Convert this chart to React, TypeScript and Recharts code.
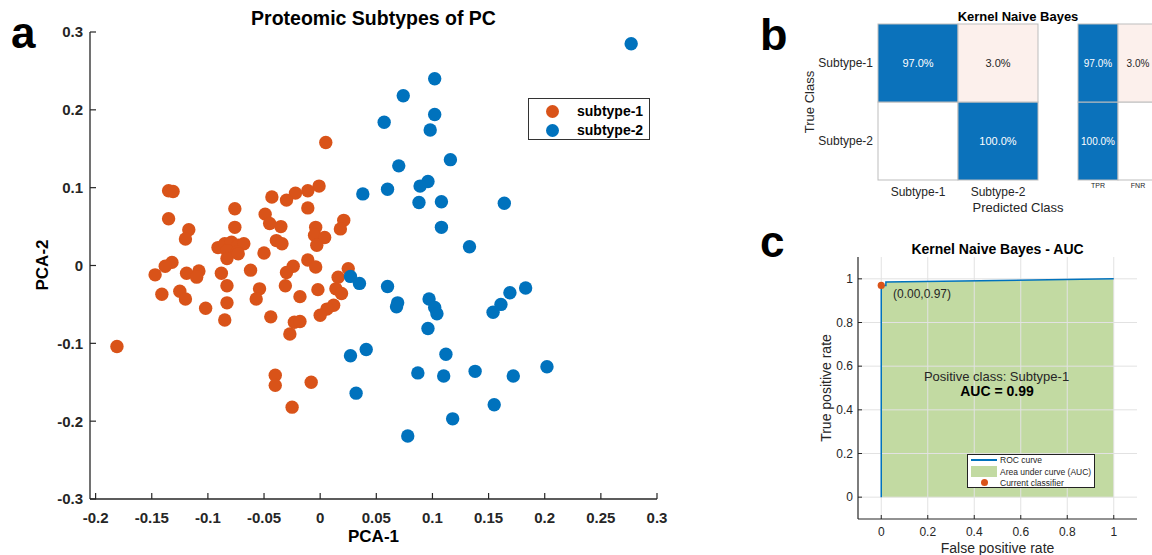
import React from "react";
import {
  ScatterChart,
  Scatter,
  XAxis,
  YAxis,
  Legend,
  BarChart,
  Bar,
  ComposedChart,
  Area,
  Line,
  ReferenceLine,
} from "recharts";

const FONT = '"Liberation Sans", Arial, Helvetica, sans-serif';
const ORANGE = "#D95319";
const BLUE = "#0072BD";
const GREEN = "#77AC30";
const AXIS = "#262626";
const TXT = "#262626";

// ---- panel a: PCA scatter ----
const subtype1: [number, number][] = [
  [0.005, 0.158], [-0.135, 0.096], [-0.131, 0.095], [-0.135, 0.06], [-0.117, 0.046],
  [-0.12, 0.034], [-0.076, 0.073], [-0.076, 0.049], [-0.132, 0.004], [-0.138, -0.001],
  [-0.147, -0.012], [-0.119, -0.01], [-0.108, -0.007], [-0.088, -0.01], [-0.001, 0.102],
  [-0.011, 0.096], [-0.022, 0.093], [-0.03, 0.084], [-0.043, 0.088], [-0.011, 0.074],
  [-0.049, 0.066], [-0.045, 0.054], [-0.035, 0.05], [0.021, 0.058], [0.018, 0.047],
  [-0.004, 0.049], [-0.005, 0.039], [0.004, 0.036], [-0.003, 0.026], [-0.039, 0.032],
  [-0.034, 0.028], [-0.05, 0.016], [-0.062, -0.006], [-0.011, 0.007], [-0.004, -0.002],
  [-0.024, -0.001], [-0.03, -0.009], [0.025, -0.004], [0.016, -0.015], [-0.091, 0.023],
  [-0.085, 0.028], [-0.079, 0.03], [-0.073, 0.026], [-0.068, 0.028], [-0.083, 0.019],
  [-0.074, 0.017], [-0.083, 0.009], [-0.073, 0.015], [-0.11, -0.015], [-0.083, -0.026],
  [-0.141, -0.037], [-0.125, -0.033], [-0.12, -0.043], [-0.102, -0.055], [-0.083, -0.048],
  [-0.085, -0.07], [-0.181, -0.104], [-0.054, -0.03], [-0.057, -0.043], [-0.031, -0.026],
  [-0.018, -0.04], [-0.002, -0.031], [0.014, -0.03], [0.019, -0.036], [0.012, -0.051],
  [0.006, -0.056], [0.0, -0.064], [-0.044, -0.066], [-0.023, -0.073], [-0.018, -0.072],
  [-0.027, -0.088], [-0.04, -0.141], [-0.04, -0.154], [-0.008, -0.15], [-0.025, -0.182],
];

const subtype2: [number, number][] = [
  [0.277, 0.285], [0.102, 0.24], [0.074, 0.218], [0.102, 0.194], [0.057, 0.184],
  [0.098, 0.174], [0.116, 0.136], [0.07, 0.128], [0.096, 0.108], [0.089, 0.102],
  [0.06, 0.098], [0.038, 0.092], [0.088, 0.081], [0.108, 0.082], [0.164, 0.08],
  [0.108, 0.049], [0.133, 0.024], [0.027, -0.014], [0.035, -0.023], [0.06, -0.027],
  [0.069, -0.048], [0.068, -0.053], [0.097, -0.043], [0.102, -0.054], [0.104, -0.062],
  [0.096, -0.081], [0.169, -0.035], [0.183, -0.029], [0.161, -0.05], [0.154, -0.06],
  [0.027, -0.116], [0.041, -0.108], [0.112, -0.114], [0.087, -0.138], [0.11, -0.142],
  [0.138, -0.136], [0.172, -0.142], [0.202, -0.13], [0.032, -0.164], [0.155, -0.179],
  [0.118, -0.197], [0.078, -0.219],
];

const pcaXTicks = [-0.2, -0.15, -0.1, -0.05, 0, 0.05, 0.1, 0.15, 0.2, 0.25, 0.3];
const pcaYTicks = [-0.3, -0.2, -0.1, 0, 0.1, 0.2, 0.3];

// ---- panel b: confusion matrix ----
const trueClasses = ["Subtype-1", "Subtype-2"];
const predClasses = ["Subtype-1", "Subtype-2"];
const confPct = [
  [97.0, 3.0],
  [0, 100.0],
];
const rateCols = ["TPR", "FNR"];
const ratePct = [
  [97.0, 3.0],
  [100.0, 0],
];

// ---- panel c: ROC ----
const rocFpr = [0, 0, 0.02, 0.02, 1];
const rocTpr = [0, 0.97, 0.97, 0.985, 1];
const classifierFpr = 0;
const classifierTpr = 0.97;
const rocTicks = [0, 0.2, 0.4, 0.6, 0.8, 1];

type TickOpts = {
  len: number;
  gap: number;
  size: number;
  weight: number;
  sw: number;
};

const bottomTick = (o: TickOpts) => (p: any) => (
  <g>
    <line x1={p.x} x2={p.x} y1={p.y} y2={p.y - o.len} stroke={AXIS} strokeWidth={o.sw} />
    <text
      x={p.x}
      y={p.y + o.gap}
      textAnchor="middle"
      fontSize={o.size}
      fontWeight={o.weight}
      fill={TXT}
      fontFamily={FONT}
    >
      {String(p.payload.value)}
    </text>
  </g>
);

const leftTick = (o: TickOpts) => (p: any) => (
  <g>
    <line x1={p.x} x2={p.x + o.len} y1={p.y} y2={p.y} stroke={AXIS} strokeWidth={o.sw} />
    <text
      x={p.x - o.gap}
      y={p.y + o.size * 0.36}
      textAnchor="end"
      fontSize={o.size}
      fontWeight={o.weight}
      fill={TXT}
      fontFamily={FONT}
    >
      {String(p.payload.value)}
    </text>
  </g>
);

function Txt({
  x,
  y,
  size,
  bold,
  anchor = "middle",
  rotate,
  color = "#000",
  children,
}: {
  x: number;
  y: number;
  size: number;
  bold?: boolean;
  anchor?: "start" | "middle" | "end";
  rotate?: boolean;
  color?: string;
  children: React.ReactNode;
}) {
  const base: React.CSSProperties = {
    position: "absolute",
    fontSize: size,
    lineHeight: `${size}px`,
    fontWeight: bold ? 700 : 400,
    color,
    whiteSpace: "nowrap",
  };
  if (rotate) {
    return (
      <div style={{ ...base, left: x, top: y, transform: "translate(-50%,-50%) rotate(-90deg)" }}>
        {children}
      </div>
    );
  }
  const shift = anchor === "middle" ? "-50%" : anchor === "end" ? "-100%" : "0";
  return (
    <div style={{ ...base, left: x, top: y - 0.8465 * size, transform: `translateX(${shift})` }}>
      {children}
    </div>
  );
}

const matrixCell = (row: number, fontSize: number) => (p: any) => {
  const v: number = p.payload.vals[row];
  const diag: boolean = p.payload.diag[row];
  const fill = v === 0 ? "#ffffff" : diag ? "#0B72BB" : "#FCF0EC";
  return (
    <g>
      <rect x={p.x} y={p.y} width={p.width} height={p.height} fill={fill} stroke="#bdbdbd" strokeWidth={1} />
      {v !== 0 && (
        <text
          x={p.x + p.width / 2}
          y={p.y + p.height / 2 + fontSize * 0.36}
          textAnchor="middle"
          fontSize={fontSize}
          fill={diag ? "#ffffff" : "#262626"}
          fontFamily={FONT}
        >
          {`${v.toFixed(1)}%`}
        </text>
      )}
    </g>
  );
};

export default function App() {
  const s1 = subtype1.map(([x, y]) => ({ x, y }));
  const s2 = subtype2.map(([x, y]) => ({ x, y }));

  const mainTable = predClasses.map((name, j) => ({
    name,
    bottom: 1,
    top: 1,
    vals: [confPct[0][j], confPct[1][j]],
    diag: [j === 0, j === 1],
  }));
  const sideTable = rateCols.map((name, j) => ({
    name,
    bottom: 1,
    top: 1,
    vals: [ratePct[0][j], ratePct[1][j]],
    diag: [j === 0, j === 0],
  }));

  const rocTable = rocFpr.map((fpr, i) => ({ fpr, tpr: rocTpr[i] }));
  const classifier = [{ fpr: classifierFpr, tpr: classifierTpr }];

  const legendA = (props: any) => {
    const items = props.payload || [];
    return (
      <div
        style={{
          position: "relative",
          boxSizing: "border-box",
          width: 122,
          height: 42,
          border: "1.5px solid #333",
          background: "#fff",
          fontFamily: FONT,
        }}
      >
        {items.map((e: any, i: number) => (
          <div key={i} style={{ position: "absolute", left: 0, top: 12 + i * 19 - 9.5, height: 19, width: "100%" }}>
            <span
              style={{
                position: "absolute",
                left: 17,
                top: 3,
                width: 13,
                height: 13,
                borderRadius: "50%",
                background: e.color || (i === 0 ? ORANGE : BLUE),
              }}
            />
            <span
              style={{
                position: "absolute",
                left: 48,
                top: 0,
                fontSize: 14,
                lineHeight: "19px",
                fontWeight: 700,
                color: "#000",
              }}
            >
              {e.value}
            </span>
          </div>
        ))}
      </div>
    );
  };

  const legendC = () => (
    <div
      style={{
        position: "relative",
        boxSizing: "border-box",
        width: 128,
        height: 34,
        border: "1.3px solid #222",
        background: "#fff",
        fontFamily: FONT,
        fontSize: 8.5,
        color: "#262626",
      }}
    >
      <span style={{ position: "absolute", left: 3, top: 4, width: 26, height: 1.5, background: BLUE }} />
      <span style={{ position: "absolute", left: 32, top: 0, lineHeight: "10px" }}>ROC curve</span>
      <span style={{ position: "absolute", left: 3, top: 11, width: 26, height: 11, background: GREEN, opacity: 0.45 }} />
      <span style={{ position: "absolute", left: 32, top: 11.5, lineHeight: "10px" }}>Area under curve (AUC)</span>
      <span
        style={{
          position: "absolute",
          left: 13,
          top: 24,
          width: 7,
          height: 7,
          borderRadius: "50%",
          background: ORANGE,
        }}
      />
      <span style={{ position: "absolute", left: 32, top: 22.5, lineHeight: "10px" }}>Current classifier</span>
    </div>
  );

  return (
    <div
      style={{
        position: "absolute",
        left: 0,
        top: 0,
        width: 1152,
        height: 555,
        overflow: "hidden",
        background: "#fff",
        fontFamily: FONT,
      }}
    >
      {/* panel a */}
      <div style={{ position: "absolute", left: 0, top: 0 }}>
        <ScatterChart width={700} height={555} margin={{ top: 32, right: 43, bottom: 16, left: 30 }}>
          <XAxis
            type="number"
            dataKey="x"
            domain={[-0.205, 0.3]}
            allowDataOverflow
            ticks={pcaXTicks}
            interval={0}
            height={40}
            tickSize={0}
            tickMargin={0}
            tickLine={false}
            axisLine={{ stroke: AXIS, strokeWidth: 1.3 }}
            tick={bottomTick({ len: 6, gap: 23.5, size: 15, weight: 700, sw: 1.2 })}
          />
          <YAxis
            type="number"
            dataKey="y"
            domain={[-0.3, 0.3]}
            allowDataOverflow
            ticks={pcaYTicks}
            interval={0}
            width={60}
            tickSize={0}
            tickMargin={0}
            tickLine={false}
            axisLine={{ stroke: AXIS, strokeWidth: 1.3 }}
            tick={leftTick({ len: 6, gap: 7, size: 15, weight: 700, sw: 1.2 })}
          />
          <Scatter
            name="subtype-1"
            data={s1}
            fill={ORANGE}
            isAnimationActive={false}
            shape={(p: any) => <circle cx={p.cx} cy={p.cy} r={6.7} fill={ORANGE} />}
          />
          <Scatter
            name="subtype-2"
            data={s2}
            fill={BLUE}
            isAnimationActive={false}
            shape={(p: any) => <circle cx={p.cx} cy={p.cy} r={6.7} fill={BLUE} />}
          />
          <Legend
            layout="vertical"
            align="center"
            verticalAlign="middle"
            wrapperStyle={{ left: 528, top: 98, width: 122, height: 42 }}
            content={legendA}
          />
        </ScatterChart>
      </div>
      <Txt x={11} y={48} size={44} bold anchor="start">a</Txt>
      <Txt x={373.5} y={25.3} size={19.5} bold>Proteomic Subtypes of PC</Txt>
      <Txt x={373.5} y={542.7} size={17} bold>PCA-1</Txt>
      <Txt x={42} y={265} size={17} bold rotate>PCA-2</Txt>

      {/* panel b */}
      <div style={{ position: "absolute", left: 760, top: 0 }}>
        <BarChart
          width={300}
          height={230}
          data={mainTable}
          margin={{ top: 24, right: 22, bottom: 30, left: 58 }}
          barCategoryGap={0}
        >
          <XAxis
            dataKey="name"
            height={20}
            interval={0}
            tickLine={false}
            axisLine={false}
            tickSize={0}
            tickMargin={7}
            tick={{ fontSize: 12, fill: TXT, fontFamily: FONT }}
          />
          <YAxis
            type="number"
            domain={[0, 2]}
            ticks={[0.5, 1.5]}
            interval={0}
            width={60}
            tickLine={false}
            axisLine={false}
            tickSize={0}
            tickMargin={5}
            tickFormatter={(v: number) => trueClasses[v > 1 ? 0 : 1]}
            tick={{ fontSize: 12, fill: TXT, fontFamily: FONT }}
          />
          <Bar dataKey="bottom" stackId="m" isAnimationActive={false} shape={matrixCell(1, 11)} />
          <Bar dataKey="top" stackId="m" isAnimationActive={false} shape={matrixCell(0, 11)} />
        </BarChart>
      </div>
      <div style={{ position: "absolute", left: 1060, top: 0 }}>
        <BarChart
          width={120}
          height={230}
          data={sideTable}
          margin={{ top: 24, right: 22, bottom: 30, left: 18 }}
          barCategoryGap={0}
        >
          <XAxis
            dataKey="name"
            height={20}
            interval={0}
            tickLine={false}
            axisLine={false}
            tickSize={0}
            tickMargin={3.5}
            tick={{ fontSize: 7, fill: TXT, fontFamily: FONT }}
          />
          <YAxis type="number" domain={[0, 2]} hide />
          <Bar dataKey="bottom" stackId="m" isAnimationActive={false} shape={matrixCell(1, 10)} />
          <Bar dataKey="top" stackId="m" isAnimationActive={false} shape={matrixCell(0, 10)} />
        </BarChart>
      </div>
      <Txt x={760} y={50} size={45} bold anchor="start">b</Txt>
      <Txt x={1018} y={20.7} size={13} bold>Kernel Naive Bayes</Txt>
      <Txt x={1018} y={211.7} size={13} color={TXT}>Predicted Class</Txt>
      <Txt x={809} y={102} size={13} rotate color={TXT}>True Class</Txt>

      {/* panel c */}
      <div style={{ position: "absolute", left: 760, top: 220 }}>
        <ComposedChart
          width={392}
          height={335}
          data={rocTable}
          margin={{ top: 37, right: 15, bottom: 11, left: 58 }}
        >
          <XAxis
            type="number"
            dataKey="fpr"
            domain={[-0.1, 1.1]}
            allowDataOverflow
            ticks={rocTicks}
            interval={0}
            height={25}
            tickSize={0}
            tickMargin={0}
            tickLine={false}
            axisLine={{ stroke: AXIS, strokeWidth: 1.2 }}
            tick={bottomTick({ len: 4, gap: 17, size: 12, weight: 400, sw: 1 })}
          />
          <YAxis
            type="number"
            domain={[-0.1, 1.1]}
            allowDataOverflow
            ticks={rocTicks}
            interval={0}
            width={40}
            tickSize={0}
            tickMargin={0}
            tickLine={false}
            axisLine={{ stroke: AXIS, strokeWidth: 1.2 }}
            tick={leftTick({ len: 4, gap: 5, size: 12, weight: 400, sw: 1 })}
          />
          {rocTicks.map((v) => (
            <ReferenceLine key={`gx${v}`} x={v} stroke="#e2e2e2" strokeWidth={1} />
          ))}
          {rocTicks.map((v) => (
            <ReferenceLine key={`gy${v}`} y={v} stroke="#e2e2e2" strokeWidth={1} />
          ))}
          <Area
            type="linear"
            dataKey="tpr"
            name="Area under curve (AUC)"
            baseValue={0}
            fill={GREEN}
            fillOpacity={0.45}
            stroke="none"
            isAnimationActive={false}
          />
          <Line
            type="linear"
            dataKey="tpr"
            name="ROC curve"
            stroke={BLUE}
            strokeWidth={1.5}
            dot={false}
            isAnimationActive={false}
          />
          <Scatter
            name="Current classifier"
            data={classifier}
            dataKey="tpr"
            fill={ORANGE}
            isAnimationActive={false}
            shape={(p: any) => <circle cx={p.cx} cy={p.cy} r={3.6} fill={ORANGE} />}
          />
          <Legend
            layout="vertical"
            align="center"
            verticalAlign="middle"
            wrapperStyle={{ left: 207, top: 234, width: 128, height: 34 }}
            content={legendC}
          />
        </ComposedChart>
      </div>
      <Txt x={760} y={257} size={44} bold anchor="start">c</Txt>
      <Txt x={997.5} y={254} size={14} bold>Kernel Naive Bayes - AUC</Txt>
      <Txt x={997.5} y={553} size={14} color={TXT}>False positive rate</Txt>
      <Txt x={826} y={388} size={14} rotate color={TXT}>True positive rate</Txt>
      <Txt x={996.5} y={381.5} size={13} color={TXT}>Positive class: Subtype-1</Txt>
      <Txt x={997} y={396} size={14} bold>AUC = 0.99</Txt>
      <Txt x={893} y={298.3} size={12} anchor="start" color={TXT}>(0.00,0.97)</Txt>
    </div>
  );
}
